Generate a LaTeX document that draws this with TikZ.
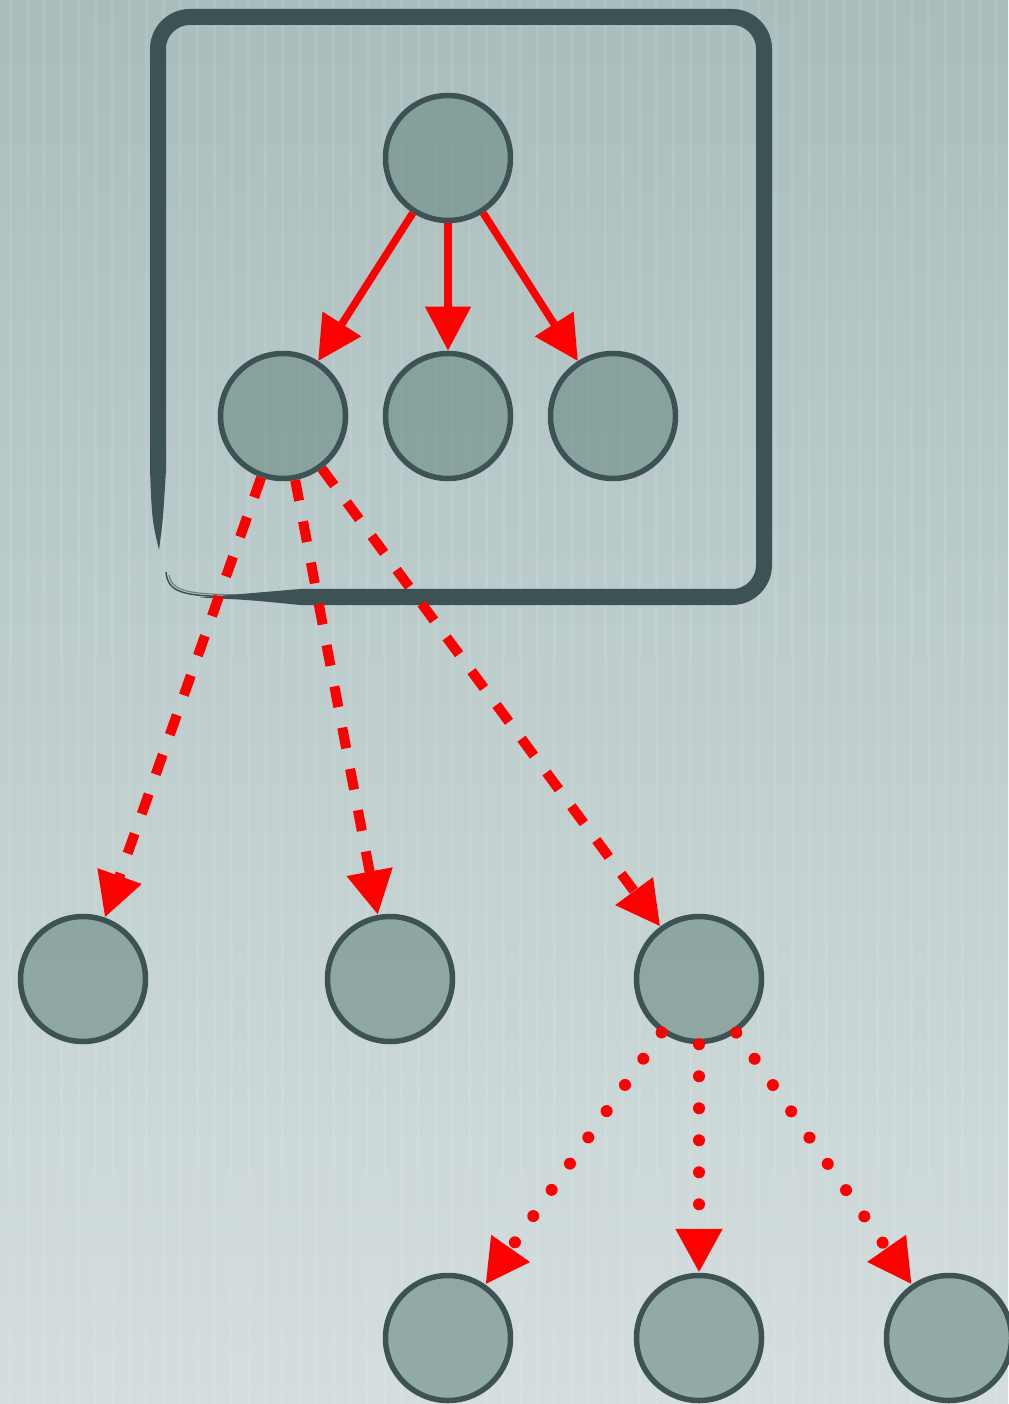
\documentclass[tikz,border=0pt]{standalone}
\usetikzlibrary{arrows.meta}
\definecolor{slate}{HTML}{3C5254}
\definecolor{nodefill}{HTML}{6E8E86}
\definecolor{bgtop}{HTML}{A9BDBD}
\definecolor{bgbot}{HTML}{D5DEDE}
\tikzset{
	treenode/.style={circle, draw=slate, fill=nodefill, fill opacity=0.64, draw opacity=1, line width=0.055cm, minimum size=1.25cm, inner sep=0pt},
	link/.style={red, line width=0.075cm, -{Triangle[length=0.44cm, width=0.44cm]}},
	dashlink/.style={link, line width=0.1cm, dash pattern=on 0.21cm off 0.21cm},
	dotlink/.style={link, line width=0.12cm, line cap=round, dash pattern=on 0pt off 0.32cm}
}
\begin{document}
\begin{tikzpicture}
				% background
				\shade[top color=bgtop, bottom color=bgbot] (0,0) rectangle (10.08,-14.04);
				\useasboundingbox (0,0) rectangle (10.08,-14.04);
				\foreach \x in {0.1,0.27,...,10.08}
					\draw[white, opacity=0.08, line width=0.03cm] (\x,0) -- (\x,-14.04);
				% frame, drawn by hand
				\draw[slate, line width=0.16cm, rounded corners=0.32cm] (3.0,-5.97) -- (7.64,-5.97) -- (7.64,-0.17) -- (1.58,-0.17) -- (1.58,-4.7);
				\fill[slate] (1.50,-4.7) .. controls (1.52,-5.2) .. (1.59,-5.5) .. controls (1.63,-5.2) .. (1.66,-4.7) -- cycle;
				\fill[slate] (3.0,-5.89) -- (3.0,-6.05) .. controls (2.5,-6.0) .. (2.0,-5.975) .. controls (2.5,-5.93) .. cycle;
				\draw[slate, line width=0.015cm] (1.66,-5.72) .. controls (1.68,-5.94) and (1.85,-5.96) .. (2.4,-5.97);
				\draw[slate, opacity=0.6, line width=0.012cm] (1.69,-5.75) .. controls (1.72,-5.92) and (1.9,-5.94) .. (2.4,-5.95);
				\node[treenode] (root) at (4.48,-1.58) {};
				\node[treenode] (left) at (2.83,-4.16) {};
				\node[treenode] (mid) at (4.48,-4.16) {};
				\node[treenode] (right) at (6.13,-4.16) {};
				\node[treenode] (a) at (0.83,-9.79) {};
				\node[treenode] (b) at (3.90,-9.79) {};
				\node[treenode] (c) at (6.99,-9.79) {};
				\node[treenode] (d) at (4.48,-13.38) {};
				\node[treenode] (e) at (6.99,-13.38) {};
				\node[treenode] (f) at (9.49,-13.38) {};
				\draw[link] (root) -- (left);
				\draw[link] (root) -- (mid);
				\draw[link] (root) -- (right);
				\draw[dashlink] (left) -- (a);
				\draw[dashlink] (left) -- (b);
				\draw[dashlink] (left) -- (c);
				\draw[dotlink] (c) -- (d);
				\draw[dotlink] (c) -- (e);
				\draw[dotlink] (c) -- (f);
			\end{tikzpicture}
\end{document}
